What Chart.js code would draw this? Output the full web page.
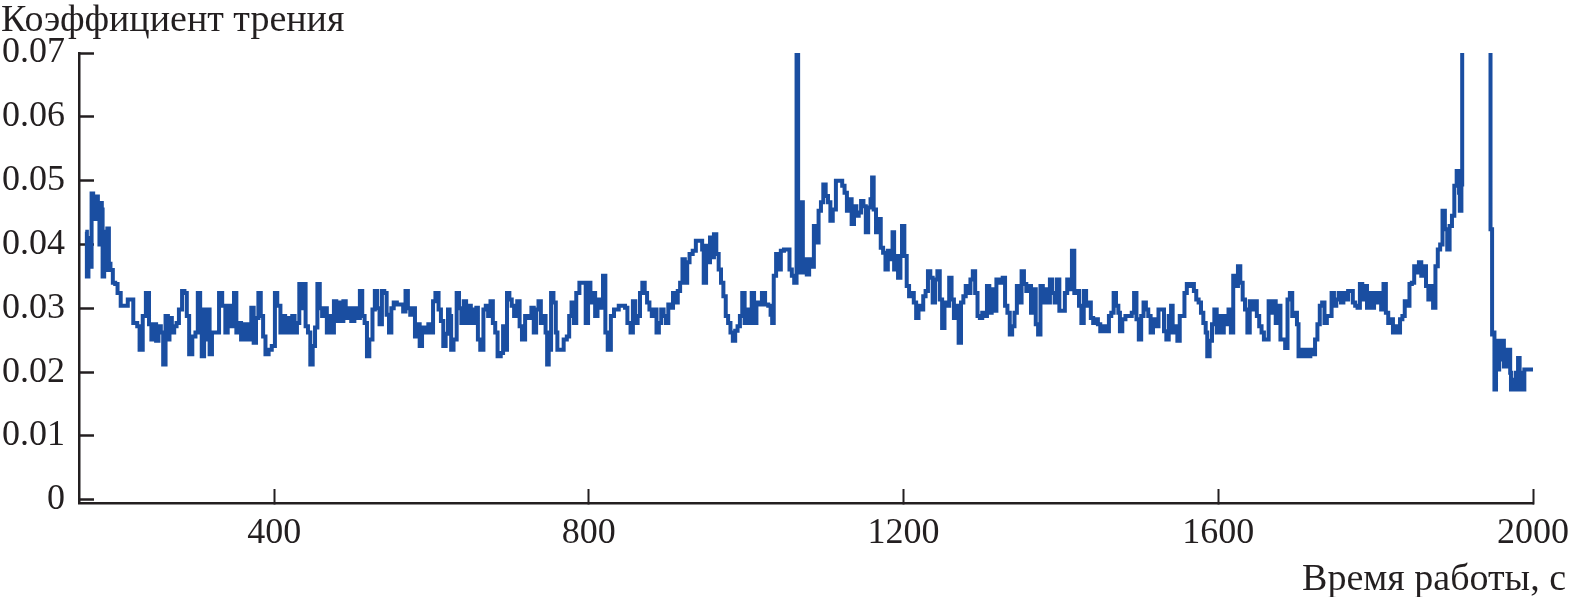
<!DOCTYPE html>
<html>
<head>
<meta charset="utf-8">
<script src="https://cdn.jsdelivr.net/npm/chart.js@4.4.1/dist/chart.umd.min.js"></script>
<style>
  html, body { margin: 0; padding: 0; background: #fff; }
  #wrap { width: 1570px; height: 597px; }
</style>
</head>
<body>
<div id="wrap"><canvas id="chart" width="1570" height="597"></canvas></div>
<script>
// время, с
const timeSec = [
  160,162,164,166,168,170,172,174,176,178,
  180,181,182,184,186,188,190,192,195,198,
  201,205,214,221,226,229,233,237,241,244,
  247,250,253,256,259,262,265,267,270,273,
  276,279,283,286,289,292,296,300,303,306,
  308,311,314,316,318,321,326,330,334,338,
  341,345,349,352,355,358,362,366,371,374,
  377,380,383,386,389,393,397,401,404,408,
  411,414,417,420,423,426,429,432,435,437,
  440,443,446,449,452,455,458,461,464,467,
  470,473,476,479,482,485,488,491,494,498,
  502,506,509,512,515,518,521,525,528,531,
  534,537,540,543,546,549,552,556,560,564,
  567,570,573,576,579,582,585,588,592,596,
  599,602,605,609,612,615,618,621,623,625,
  628,632,635,638,641,644,647,650,653,655,
  657,659,662,666,669,672,675,678,681,684,
  688,691,693,696,699,702,705,709,712,715,
  719,724,727,730,733,736,739,742,745,747,
  749,752,755,758,760,764,768,772,775,778,
  781,784,788,792,796,799,802,805,808,811,
  815,818,821,824,828,832,838,843,846,849,
  853,856,859,862,865,868,871,874,877,880,
  883,886,889,892,895,898,901,904,907,910,
  913,916,919,922,925,928,932,936,940,944,
  946,949,952,954,957,959,962,965,968,971,
  974,977,980,983,986,989,992,995,998,1001,
  1004,1007,1010,1013,1016,1020,1024,1028,1031,1033,
  1035,1038,1041,1044,1048,1052,1055,1058,1061,1064,
  1066,1068,1070,1072,1074,1077,1080,1083,1086,1089,
  1092,1095,1098,1101,1104,1107,1110,1114,1118,1122,
  1125,1128,1131,1134,1137,1140,1143,1146,1149,1152,
  1155,1158,1160,1162,1165,1168,1171,1174,1177,1180,
  1183,1186,1188,1191,1193,1196,1198,1201,1204,1207,
  1210,1213,1216,1219,1222,1225,1228,1231,1234,1237,
  1240,1243,1246,1249,1252,1255,1258,1261,1264,1267,
  1270,1273,1276,1279,1282,1285,1288,1291,1294,1297,
  1300,1303,1306,1309,1312,1315,1318,1322,1326,1329,
  1332,1335,1338,1341,1344,1347,1350,1353,1356,1359,
  1362,1365,1368,1371,1374,1377,1380,1383,1386,1389,
  1392,1395,1398,1402,1405,1408,1411,1414,1417,1420,
  1423,1426,1429,1432,1435,1438,1441,1444,1447,1450,
  1454,1458,1461,1464,1467,1470,1473,1475,1478,1482,
  1486,1490,1493,1496,1499,1502,1505,1508,1511,1514,
  1517,1520,1524,1528,1531,1534,1537,1540,1542,1545,
  1548,1551,1554,1557,1560,1563,1566,1569,1572,1575,
  1578,1581,1584,1586,1589,1592,1595,1598,1601,1604,
  1607,1610,1613,1616,1619,1622,1625,1628,1631,1634,
  1637,1640,1643,1646,1649,1652,1655,1658,1661,1664,
  1667,1670,1673,1676,1679,1682,1685,1688,1691,1694,
  1697,1700,1702,1705,1708,1711,1714,1717,1720,1723,
  1726,1729,1732,1735,1738,1741,1744,1747,1750,1753,
  1756,1759,1762,1765,1768,1771,1774,1777,1780,1783,
  1786,1789,1792,1795,1798,1801,1804,1807,1810,1813,
  1816,1819,1822,1825,1828,1831,1834,1837,1840,1843,
  1846,1849,1852,1855,1858,1861,1864,1867,1870,1873,
  1876,1879,1882,1885,1888,1891,1894,1897,1900,1903,
  1906,1907,1909,1910,1946,1948,1950,1951,1953,1955,
  1957,1959,1961,1963,1965,1967,1969,1971,1972,1974,
  1976,1978,1980,1981,1983,1985,1987,1989,2000
];

// коэффициент трения
const friction = [
  .042,.035,.041,.0365,.048,.047,.044,.0475,.0445,.040,
  .0465,.0455,.035,.042,.036,.0425,.037,.036,.034,.0338,
  .0324,.0304,.0314,.0277,.0272,.0235,.0288,.0324,.0275,.0251,
  .0275,.0249,.0272,.0262,.0212,.0288,.0251,.0285,.0262,.0272,
  .0277,.0298,.0327,.0324,.0288,.0228,.0256,.0262,.0324,.0298,
  .0225,.0298,.0251,.0298,.0228,.0262,.0262,.0324,.0304,.0262,
  .0304,.0272,.0324,.0262,.0277,.0251,.0275,.0251,.0301,.0246,
  .0285,.0324,.0288,.0256,.0228,.0235,.0241,.0324,.0304,.0262,
  .0288,.0262,.0285,.0262,.0288,.0262,.0277,.0338,.0300,.0338,
  .0272,.0262,.0212,.0241,.0270,.0338,.0300,.0288,.0300,.0262,
  .0288,.0262,.0311,.0280,.0309,.0280,.0311,.0285,.0300,.0280,
  .0300,.0285,.0327,.0288,.0277,.0225,.0251,.0298,.0327,.0300,
  .0275,.0327,.0324,.0290,.0262,.0300,.0309,.0306,.0306,.0295,
  .0327,.0300,.0290,.0300,.0256,.0275,.0241,.0270,.0262,.0275,
  .0262,.0311,.0324,.0298,.0280,.0241,.0260,.0298,.0288,.0235,
  .0251,.0324,.0300,.0277,.0311,.0277,.0304,.0277,.0298,.0277,
  .0301,.0251,.0235,.0298,.0304,.0288,.0311,.0277,.0262,.0225,
  .0230,.0272,.0235,.0324,.0314,.0304,.0288,.0311,.0272,.0251,
  .0288,.0285,.0301,.0262,.0298,.0311,.0277,.0288,.0262,.0212,
  .0235,.0324,.0309,.0262,.0235,.0235,.0251,.0256,.0288,.0309,
  .0277,.0324,.0340,.0340,.0277,.0340,.0309,.0324,.0288,.0314,
  .0301,.0351,.0262,.0235,.0288,.0298,.0304,.0304,.0301,.0277,
  .0262,.0311,.0277,.0288,.0324,.0340,.0324,.0309,.0298,.0288,
  .0298,.0262,.0277,.0298,.0288,.0277,.0306,.0301,.0324,.0309,
  .0327,.0340,.0377,.0340,.0372,.0385,.0390,.0406,.0406,.0392,
  .0340,.0398,.0372,.0411,.0380,.0416,.0385,.0361,.0340,.0319,
  .0288,.0277,.0262,.0249,.0265,.0272,.0288,.0324,.0277,.0298,
  .0277,.0324,.0277,.0309,.0306,.0324,.0306,.0304,.0290,.0277,
  .0351,.0385,.0361,.0390,.0392,.0392,.0361,.0351,.0340,.0800,
  .0466,.0356,.0466,.0356,.0377,.0353,.0377,.0365,.0429,.0403,
  .0453,.0466,.0494,.0476,.0466,.0437,.0455,.0500,.0500,.0492,
  .0481,.0453,.0471,.0432,.0460,.0445,.0450,.0468,.0460,.0419,
  .0458,.0471,.0505,.0455,.0419,.0440,.0395,.0387,.0361,.0390,
  .0377,.0419,.0361,.0382,.0348,.0382,.0429,.0382,.0335,.0319,
  .0324,.0309,.0285,.0304,.0298,.0319,.0327,.0358,.0348,.0309,
  .0345,.0358,.0314,.0269,.0309,.0304,.0348,.0314,.0285,.0304,
  .0246,.0309,.0319,.0335,.0324,.0345,.0358,.0324,.0288,.0285,
  .0293,.0288,.0335,.0293,.0330,.0296,.0345,.0340,.0348,.0304,
  .0293,.0259,.0272,.0293,.0335,.0309,.0358,.0338,.0327,.0335,
  .0293,.0330,.0275,.0259,.0335,.0309,.0330,.0309,.0345,.0324,
  .0309,.0345,.0296,.0296,.0324,.0345,.0330,.0390,.0324,.0327,
  .0304,.0277,.0327,.0304,.0309,.0285,.0277,.0283,.0275,.0264,
  .0272,.0264,.0288,.0293,.0324,.0304,.0293,.0264,.0283,.0288,
  .0288,.0293,.0324,.0283,.0251,.0288,.0309,.0298,.0288,.0262,
  .0283,.0272,.0298,.0298,.0264,.0251,.0288,.0304,.0262,.0272,
  .0249,.0288,.0288,.0324,.0338,.0335,.0338,.0327,.0314,.0309,
  .0293,.0277,.0262,.0225,.0249,.0275,.0298,.0262,.0288,.0262,
  .0288,.0275,.0298,.0262,.0351,.0335,.0366,.0340,.0314,.0298,
  .0262,.0311,.0298,.0311,.0288,.0272,.0262,.0251,.0251,.0311,
  .0293,.0311,.0277,.0304,.0251,.0251,.0238,.0314,.0324,.0288,
  .0293,.0275,.0225,.0235,.0225,.0235,.0225,.0235,.0228,.0251,
  .0275,.0304,.0309,.0277,.0288,.0288,.0324,.0304,.0314,.0324,
  .0309,.0324,.0314,.0327,.0327,.0309,.0304,.0301,.0338,.0314,
  .0335,.0301,.0324,.0301,.0324,.0309,.0324,.0298,.0338,.0293,
  .0277,.0283,.0262,.0272,.0262,.0283,.0288,.0311,.0304,.0338,
  .0340,.0366,.0356,.0372,.0351,.0366,.0335,.0314,.0335,.0301,
  .0366,.0392,.0400,.0453,.0424,.0392,.0429,.0445,.0492,.0515,
  .0481,.0453,.0494,.0800,.0424,.0259,.0262,.0173,.0249,.0204,
  .0249,.0220,.0249,.0209,.0235,.0209,.0235,.0199,.0173,.0188,
  .0173,.0199,.0173,.0222,.0173,.0199,.0173,.0204,.0201
];

const xTicks = [400, 800, 1200, 1600, 2000];
const yTicks = [0, 0.01, 0.02, 0.03, 0.04, 0.05, 0.06, 0.07];
const yTitle = 'Коэффициент трения';
const xTitle = 'Время работы, с';

const INK = '#231f20';
const LINE = '#1a4ea1';
const FAMILY = "'Liberation Serif', 'Times New Roman', serif";
const TICK_SIZE = 36;
const TITLE_SIZE = 38;

// подписи осей рисуем сами: у y -- сверху слева, у x -- справа внизу
const axisTitles = {
  id: 'axisTitles',
  afterDraw(chart) {
    const ctx = chart.ctx;
    ctx.save();
    ctx.font = TITLE_SIZE + 'px ' + FAMILY;
    ctx.fillStyle = INK;
    ctx.textBaseline = 'alphabetic';
    ctx.textAlign = 'left';
    ctx.fillText(yTitle, 1, 31);
    ctx.textAlign = 'right';
    ctx.fillText(xTitle, 1566, 590);
    ctx.restore();
  }
};

const points = timeSec.map((t, i) => ({ x: t, y: friction[i] }));

new Chart(document.getElementById('chart'), {
  type: 'line',
  data: {
    datasets: [{
      data: points,
      borderColor: LINE,
      borderWidth: 4,
      pointRadius: 0,
      stepped: true,
      fill: false
    }]
  },
  options: {
    responsive: false,
    animation: false,
    events: [],
    layout: { padding: { left: 0, top: 53, right: 37, bottom: 0 } },
    plugins: { legend: { display: false }, tooltip: { enabled: false } },
    scales: {
      x: {
        type: 'linear',
        min: 152,
        max: 2000,
        afterBuildTicks: (s) => { s.ticks = xTicks.map(v => ({ value: v })); },
        afterFit: (s) => { s.height = 94; s.paddingLeft = 0; s.paddingRight = 0; },
        grid: { drawOnChartArea: false, tickLength: -14, tickWidth: 2, color: INK },
        border: { color: INK, width: 2.5 },
        ticks: {
          color: INK, padding: 23, maxRotation: 0, autoSkip: false,
          font: { family: FAMILY, size: TICK_SIZE },
          callback: (v) => String(v)
        }
      },
      y: {
        min: -0.0005,
        max: 0.07,
        afterBuildTicks: (s) => { s.ticks = yTicks.map(v => ({ value: v })); },
        afterFit: (s) => { s.width = 79; s.paddingTop = 0; s.paddingBottom = 0; },
        grid: { drawOnChartArea: false, tickLength: -15, tickWidth: 2.5, color: INK },
        border: { color: INK, width: 2.5 },
        ticks: {
          color: INK, padding: 29, autoSkip: false,
          font: { family: FAMILY, size: TICK_SIZE },
          callback: (v) => v === 0 ? '0' : v.toFixed(2)
        }
      }
    }
  },
  plugins: [axisTitles]
});
</script>
</body>
</html>
